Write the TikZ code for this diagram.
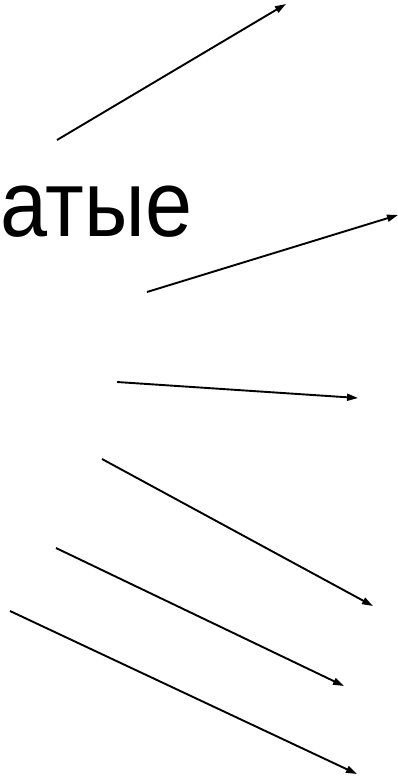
\documentclass[tikz,border=0pt]{standalone}
\usepackage{fontspec}
\setmainfont{Liberation Sans}
\usetikzlibrary{arrows.meta, positioning, calc}
\tikzset{
  pointer/.style={-{Triangle[length=11pt, width=7pt]}, line width=1.9pt, black},
}

\begin{document}
\begin{tikzpicture}[x=1pt, y=-1pt]
      \useasboundingbox (0,0) rectangle (398,779);
      \node[anchor=base west, inner sep=0pt, xscale=0.9, font=\fontsize{94}{94}\selectfont] (word) at (0,236) {атые};
      % start and end points of the pointers
      \coordinate (a1) at (57,140);  \coordinate (b1) at (286,4);
      \coordinate (a2) at (147,292); \coordinate (b2) at (398,215);
      \coordinate (a3) at (117,382); \coordinate (b3) at (358,398);
      \coordinate (a4) at (102,459); \coordinate (b4) at (373,606);
      \coordinate (a5) at (56,548);  \coordinate (b5) at (344,686);
      \coordinate (a6) at (10,611);  \coordinate (b6) at (357,774);
      \foreach \i in {1,...,6}
        \draw[pointer] (a\i) -- (b\i);
    \end{tikzpicture}
\end{document}
